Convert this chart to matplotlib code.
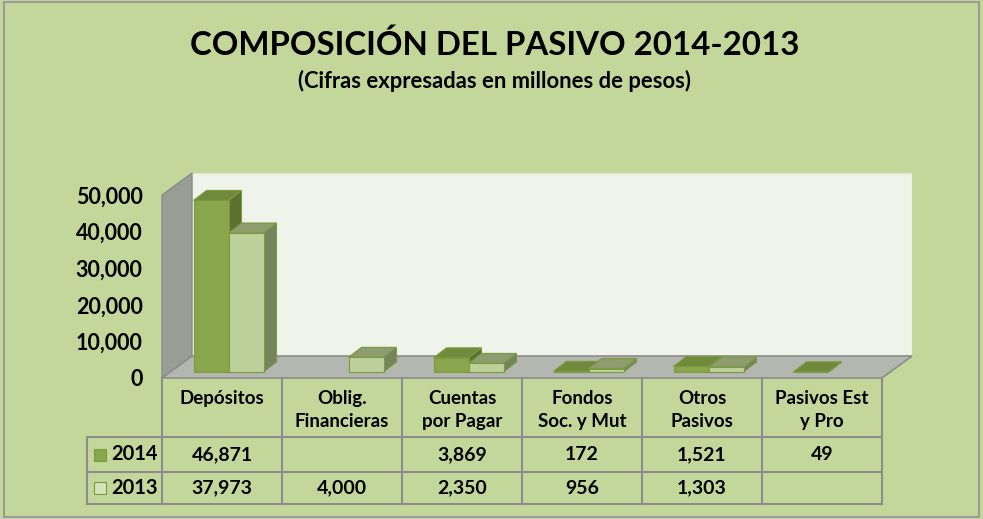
import numpy as np
import matplotlib
matplotlib.use("Agg")
import matplotlib.pyplot as plt
from matplotlib.patches import Polygon, Rectangle
from matplotlib import transforms

plt.rcParams['font.family'] = ['Lato', 'DejaVu Sans']

categorias = ['Depósitos', 'Oblig.\nFinancieras', 'Cuentas\npor Pagar',
              'Fondos\nSoc. y Mut', 'Otros\nPasivos', 'Pasivos Est\ny Pro']
series = ['2014', '2013']
valores_2014 = [46871, None, 3869, 172, 1521, 49]
valores_2013 = [37973, 4000, 2350, 956, 1303, None]
yticks = [0, 10000, 20000, 30000, 40000, 50000]

fondo = '#C4D79B'
colores_frente = ['#8AA64C', '#BDD19A']
colores_tope = ['#6F8A3A', '#8D9D6E']
colores_lado = ['#5C7030', '#76845E']
borde = '#7A9A40'

W, H = 983, 519
fig = plt.figure(figsize=(W / 100, H / 100), dpi=100)
fig.patch.set_facecolor(fondo)
fig.add_artist(Rectangle((4 / W, 1 - 517 / H), 975 / W, 515 / H, transform=fig.transFigure,
                         fill=False, edgecolor='#9a9a9a', linewidth=1.5))

# plano frontal: x 162..882 px, y=0 en 378 px, 50000 en 195 px
px_x = 120.0
px_y = 183.0 / 50000
wall_dx, wall_dy = 30 / px_x, 22 / px_y
left, right = 162, 882 + 30
bottom, top = 378, 378 - 50000 * px_y - 22
ax = fig.add_axes([left / W, 1 - bottom / H, (right - left) / W, (bottom - top) / H])
ax.set_xlim(-0.5, 5.5 + wall_dx)
ax.set_ylim(0, 50000 + wall_dy)
ax.set_facecolor('none')
for s in ax.spines.values():
    s.set_visible(False)
ax.set_xticks([])
ax.set_yticks(yticks)
ax.set_yticklabels([f'{v:,}' for v in yticks], fontsize=15.5, fontweight='bold')
ax.tick_params(axis='y', length=0, pad=14)

x0, x1 = -0.5, 5.5
ymax = 50000
# pared del fondo
ax.add_patch(Polygon([(x0 + wall_dx, wall_dy), (x1 + wall_dx, wall_dy),
                      (x1 + wall_dx, ymax + wall_dy), (x0 + wall_dx, ymax + wall_dy)],
                     facecolor='#EFF3EA', edgecolor='#dfe6d6', lw=1, zorder=0))
# pared lateral
ax.add_patch(Polygon([(x0, 0), (x0 + wall_dx, wall_dy), (x0 + wall_dx, ymax + wall_dy), (x0, ymax)],
                     facecolor='#9A9D94', edgecolor='#8c8c8c', lw=1, zorder=1, clip_on=False))
# piso
ax.add_patch(Polygon([(x0, 0), (x1, 0), (x1 + wall_dx, wall_dy), (x0 + wall_dx, wall_dy)],
                     facecolor='#B4B7AF', edgecolor='#8c8c8c', lw=1.2, zorder=1, clip_on=False))

# barras con caras laterales y superiores
shift_x, shift_y = 6.5 / px_x, 6 / px_y
depth_x, depth_y = 13 / px_x, 10 / px_y
bw = 35 / px_x
xs = np.arange(len(categorias))
for i in xs:
    for k, vals in enumerate([valores_2014, valores_2013]):
        v = vals[i]
        if v is None:
            continue
        bx0 = i + shift_x + (k - 1) * bw
        bx1 = bx0 + bw
        by0 = shift_y
        by1 = shift_y + v
        z = 3 + k
        ax.add_patch(Polygon([(bx1, by0), (bx1 + depth_x, by0 + depth_y),
                              (bx1 + depth_x, by1 + depth_y), (bx1, by1)],
                             facecolor=colores_lado[k], edgecolor=borde, lw=0.8, zorder=z))
        ax.add_patch(Polygon([(bx0, by1), (bx1, by1), (bx1 + depth_x, by1 + depth_y),
                              (bx0 + depth_x, by1 + depth_y)],
                             facecolor=colores_tope[k], edgecolor=borde, lw=0.8, zorder=z))
        ax.bar(bx0, v, width=bw, bottom=by0, align='edge', color=colores_frente[k],
               edgecolor=borde, linewidth=0.8, zorder=z)

# tabla de datos
tr = transforms.blended_transform_factory(ax.transData, ax.transAxes)
hpx = bottom - top
def fy(py):
    return (bottom - py) / hpx
lab_x = x0 - (162 - 87) / px_x
linea = dict(color='#8c8c8c', lw=1.5, transform=tr, clip_on=False)
y_head, y_r1, y_r2 = fy(437), fy(472), fy(504)
ax.plot([lab_x, x1], [y_head, y_head], **linea)
ax.plot([lab_x, x1], [y_r1, y_r1], **linea)
ax.plot([lab_x, x1], [y_r2, y_r2], **linea)
ax.plot([lab_x, lab_x], [y_head, y_r2], **linea)
for b in np.arange(len(categorias) + 1) - 0.5:
    ax.plot([b, b], [0, y_r2], **linea)

for i, c in enumerate(categorias):
    ax.text(i, fy(390), c, transform=tr, ha='center', va='top',
            fontsize=13.5, fontweight='bold', linespacing=1.4)
filas = [(valores_2014, (y_head + y_r1) / 2), (valores_2013, (y_r1 + y_r2) / 2)]
for k, (vals, yc) in enumerate(filas):
    for i, v in enumerate(vals):
        if v is not None:
            ax.text(i, yc, f'{v:,}', transform=tr, ha='center', va='center',
                    fontsize=14, fontweight='bold')
    kx = x0 - (162 - 94) / px_x
    ax.add_patch(Rectangle((kx, yc - 6 / hpx), 12 / px_x, 12 / hpx, transform=tr, clip_on=False,
                           facecolor=colores_frente[k] if k == 0 else '#D5E3B8',
                           edgecolor=borde, lw=0.8))
    ax.text(x0 - (162 - 111) / px_x, yc, series[k], transform=tr, ha='left', va='center',
            fontsize=14.5, fontweight='bold')

fig.text(495 / W, 1 - 45 / H, 'COMPOSICIÓN DEL PASIVO 2014-2013', ha='center', va='center',
         fontsize=23.8, fontweight='bold')
fig.text(495 / W, 1 - 81 / H, '(Cifras expresadas en millones de pesos)', ha='center', va='center',
         fontsize=15.8, fontweight='bold')

fig.savefig('out.png', dpi=100, facecolor=fondo)
